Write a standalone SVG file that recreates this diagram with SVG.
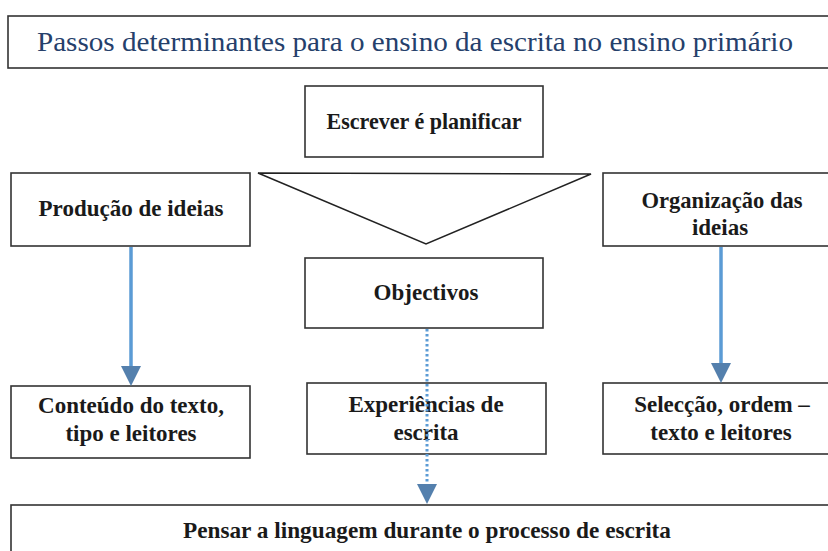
<svg xmlns="http://www.w3.org/2000/svg" width="828" height="551" viewBox="0 0 828 551">
<style>
.box{fill:#ffffff;stroke:#333333;stroke-width:1.6}
.t{font-family:'Liberation Serif','DejaVu Serif',serif;font-weight:bold;font-size:23px;fill:#1a1a1a;text-anchor:middle}
.title{font-family:'Liberation Serif','DejaVu Serif',serif;font-size:28px;fill:#25406b;text-anchor:middle}
.arr{stroke:#5b9bd5;stroke-width:3.5;fill:none}
.dot{stroke:#5b9bd5;stroke-width:3;stroke-dasharray:2.5 2.5;fill:none}
.head{fill:#5480ad}
</style>
<rect width="828" height="551" fill="#ffffff"/>
<g id="title">
<rect class="box" x="8" y="16" width="830" height="52"/>
<text class="title" x="415" y="51" textLength="756" lengthAdjust="spacingAndGlyphs">Passos determinantes para o ensino da escrita no ensino primário</text>
</g>
<g id="escrever">
<rect class="box" x="305" y="86" width="238" height="71"/>
<text class="t" x="424" y="129" textLength="195" lengthAdjust="spacingAndGlyphs">Escrever é planificar</text>
</g>
<g id="triangle">
<polygon points="258,173 591,174 426,244" fill="#ffffff" stroke="#222222" stroke-width="1.5"/>
</g>
<g id="producao">
<rect class="box" x="11" y="173" width="239" height="73"/>
<text class="t" x="131" y="216">Produção de ideias</text>
</g>
<g id="organizacao">
<rect class="box" x="603" y="173" width="235" height="73"/>
<text class="t" x="722" y="208" textLength="161" lengthAdjust="spacingAndGlyphs">Organização das</text>
<text class="t" x="720" y="235">ideias</text>
</g>
<g id="objectivos">
<rect class="box" x="305" y="258" width="238" height="70"/>
<text class="t" x="426" y="300">Objectivos</text>
</g>
<g id="conteudo">
<rect class="box" x="11" y="386" width="239" height="72"/>
<text class="t" x="131" y="413">Conteúdo do texto,</text>
<text class="t" x="131" y="441">tipo e leitores</text>
</g>
<g id="experiencias">
<rect class="box" x="307" y="383" width="239" height="71"/>
<text class="t" x="426" y="412">Experiências de</text>
<text class="t" x="426" y="440">escrita</text>
</g>
<g id="seleccao">
<rect class="box" x="603" y="383" width="235" height="71"/>
<text class="t" x="722" y="412">Selecção, ordem –</text>
<text class="t" x="721" y="440">texto e leitores</text>
</g>
<g id="pensar">
<rect class="box" x="11" y="505" width="827" height="60"/>
<text class="t" x="427" y="538" textLength="488" lengthAdjust="spacingAndGlyphs">Pensar a linguagem durante o processo de escrita</text>
</g>
<g id="connectors">
<line class="arr" x1="131" y1="247" x2="131" y2="367"/>
<path class="head" d="M121,366 L141,366 L131,386 Z"/>
<line class="arr" x1="721" y1="247" x2="721" y2="364"/>
<path class="head" d="M711,363 L731,363 L721,383 Z"/>
<line class="dot" x1="427" y1="329" x2="427" y2="485"/>
<path class="head" d="M417,484 L437,484 L427,504 Z"/>
</g>
</svg>
